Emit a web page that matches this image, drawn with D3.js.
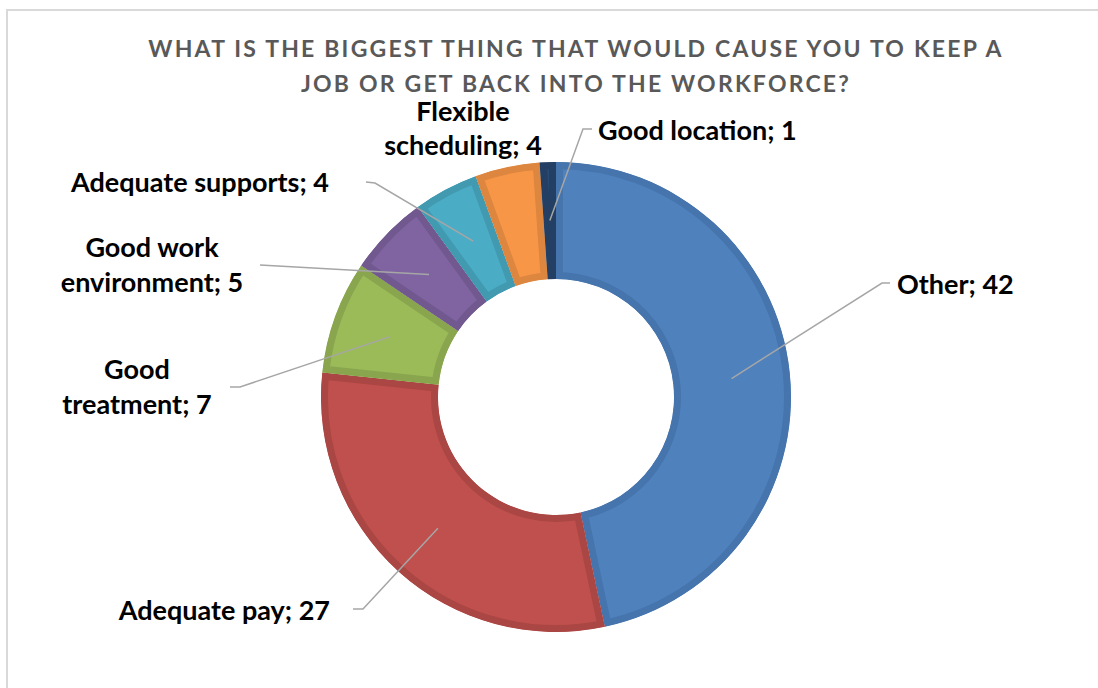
<!DOCTYPE html>
<html>
<head>
<meta charset="utf-8">
<script src="https://cdn.jsdelivr.net/npm/d3@7"></script>
<style>
  html, body { margin: 0; padding: 0; background: #ffffff; }
  svg { display: block; }
  .title { font-family: Lato, "Open Sans", sans-serif; font-weight: 700; fill: #595959; }
  .lbl { font-family: Lato, "Open Sans", sans-serif; font-weight: 700; fill: #000000; }
</style>
</head>
<body>
<svg id="chart" width="1098" height="688"></svg>
<script>
// Survey answers, in drawing order (clockwise from 12 o'clock)
const categories = [
  "Other",
  "Adequate pay",
  "Good treatment",
  "Good work environment",
  "Adequate supports",
  "Flexible scheduling",
  "Good location"
];
const counts = [42, 27, 7, 5, 4, 4, 1];

const titleLines = [
  "WHAT IS THE BIGGEST THING THAT WOULD CAUSE YOU TO KEEP A",
  "JOB OR GET BACK INTO THE WORKFORCE?"
];

// Slice fill and its darker inset rim
const fills = ["#4f81bd", "#c0504d", "#9bbb59", "#8064a2", "#4bacc6", "#f79646", "#284a73"];
const rims  = ["#4674ac", "#aa4643", "#89a64f", "#715990", "#429ab1", "#dc8640", "#233f63"];

// Label layout: line breaks, anchor, line baselines, leader polyline end points
const labelLayout = [
  { lines: ["Other; 42"], x: 897, ys: [294], anchor: "start", leader: [[882, 283], [890, 283]] },
  { lines: ["Adequate pay; 27"], x: 330, ys: [620], anchor: "end", leader: [[363, 609], [353, 609]] },
  { lines: ["Good", "treatment; 7"], x: 137, ys: [379, 414], anchor: "middle", leader: [[240, 387], [230, 387]] },
  { lines: ["Good work", "environment; 5"], x: 152, ys: [257, 292], anchor: "middle", leader: [[260, 265]] },
  { lines: ["Adequate supports; 4"], x: 329, ys: [192], anchor: "end", leader: [[375, 183], [366, 182]] },
  { lines: ["Flexible", "scheduling; 4"], x: 463, ys: [121, 155], anchor: "middle", leader: null },
  { lines: ["Good location; 1"], x: 598, ys: [140], anchor: "start", leader: [[583, 129], [592, 129]] }
];

const svg = d3.select("#chart");

// Chart area frame
svg.append("rect")
  .attr("x", 7).attr("y", 10)
  .attr("width", 1100).attr("height", 700)
  .attr("fill", "#ffffff")
  .attr("stroke", "#d9d9d9")
  .attr("stroke-width", 2);

// Title
svg.append("g").selectAll("text")
  .data(titleLines)
  .join("text")
  .attr("class", "title")
  .attr("x", 576)
  .attr("y", (d, i) => 57 + i * 35)
  .attr("text-anchor", "middle")
  .attr("font-size", 23)
  .attr("letter-spacing", 2.2)
  .text(d => d);

const cx = 556, cy = 397;
const outerR = 235, innerR = 118;

const pie = d3.pie().sort(null).value(d => d).startAngle(0).endAngle(2 * Math.PI);
const arcs = pie(counts);
const arc = d3.arc().innerRadius(innerR).outerRadius(outerR);

const g = svg.append("g").attr("transform", `translate(${cx},${cy})`);
const defs = svg.append("defs");

arcs.forEach((a, i) => {
  defs.append("clipPath").attr("id", "slice-clip-" + i)
    .append("path").attr("d", arc(a));
});

g.selectAll("path.slice")
  .data(arcs)
  .join("path")
  .attr("class", "slice")
  .attr("d", arc)
  .attr("fill", (d, i) => fills[i])
  .attr("stroke", (d, i) => rims[i])
  .attr("stroke-width", 14)
  .attr("stroke-linejoin", "miter")
  .attr("clip-path", (d, i) => `url(#slice-clip-${i})`);

// Leader lines from each slice centroid
const leaders = svg.append("g");
arcs.forEach((a, i) => {
  const lay = labelLayout[i];
  if (!lay.leader) return;
  const c = arc.centroid(a);
  const pts = [[cx + c[0], cy + c[1]], ...lay.leader];
  leaders.append("path")
    .attr("d", d3.line()(pts))
    .attr("fill", "none")
    .attr("stroke", "#a6a6a6")
    .attr("stroke-width", 1.5);
});

// Data labels
const lblG = svg.append("g");
labelLayout.forEach((lay, i) => {
  lay.lines.forEach((line, j) => {
    lblG.append("text")
      .attr("class", "lbl")
      .attr("x", lay.x)
      .attr("y", lay.ys[j])
      .attr("text-anchor", lay.anchor)
      .attr("font-size", 27)
      .text(line);
  });
});
</script>
</body>
</html>
